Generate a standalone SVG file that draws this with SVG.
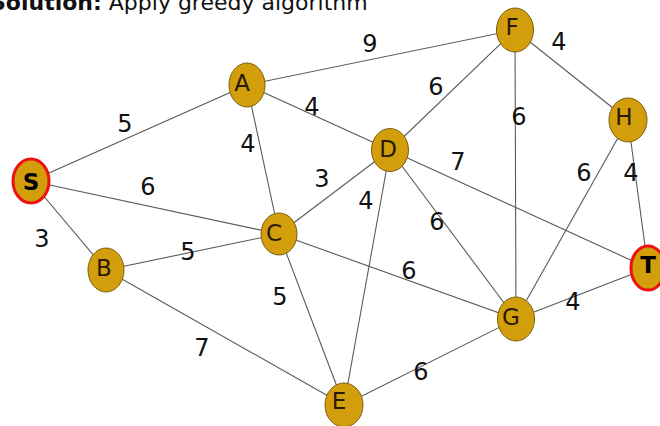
<svg xmlns="http://www.w3.org/2000/svg" width="660" height="426" viewBox="0 0 660 426">
<style>
.bg{fill:#ffffff}
.title{font-family:"DejaVu Sans",Verdana,sans-serif;font-size:22px;fill:#111}
.edge{stroke:#5a5a5a;stroke-width:1.1;fill:none}
.node ellipse{fill:#D29E0C;stroke:#7a5e0a;stroke-width:1}
.node.term ellipse{stroke:#ee1111;stroke-width:3}
.nlabel{font-family:"DejaVu Sans",Verdana,sans-serif;font-size:23px;fill:#2a1a05;text-anchor:middle;dominant-baseline:central}
.term .nlabel{font-weight:bold;fill:#000}
.w{font-family:"DejaVu Sans",Verdana,sans-serif;font-size:24px;fill:#111;text-anchor:middle;dominant-baseline:central}
</style>
<rect class="bg" x="0" y="0" width="660" height="426"/>
<text class="title" x="-10" y="10"><tspan font-weight="bold">Solution:</tspan> Apply greedy algorithm</text>
<g id="connectors">
<line class="edge" x1="31" y1="181" x2="247" y2="85"/>
<line class="edge" x1="31" y1="181" x2="279" y2="234"/>
<line class="edge" x1="31" y1="181" x2="106" y2="270"/>
<line class="edge" x1="247" y1="85" x2="515" y2="30"/>
<line class="edge" x1="247" y1="85" x2="390" y2="150"/>
<line class="edge" x1="247" y1="85" x2="279" y2="234"/>
<line class="edge" x1="515" y1="30" x2="390" y2="150"/>
<line class="edge" x1="515" y1="30" x2="516" y2="319"/>
<line class="edge" x1="515" y1="30" x2="628" y2="120"/>
<line class="edge" x1="628" y1="120" x2="516" y2="319"/>
<line class="edge" x1="628" y1="120" x2="648" y2="268"/>
<line class="edge" x1="390" y1="150" x2="279" y2="234"/>
<line class="edge" x1="390" y1="150" x2="344" y2="405"/>
<line class="edge" x1="390" y1="150" x2="516" y2="319"/>
<line class="edge" x1="390" y1="150" x2="648" y2="268"/>
<line class="edge" x1="279" y1="234" x2="106" y2="270"/>
<line class="edge" x1="279" y1="234" x2="516" y2="319"/>
<line class="edge" x1="279" y1="234" x2="344" y2="405"/>
<line class="edge" x1="106" y1="270" x2="344" y2="405"/>
<line class="edge" x1="344" y1="405" x2="516" y2="319"/>
<line class="edge" x1="516" y1="319" x2="648" y2="268"/>
</g>
<g id="weights">
<text class="w" x="370" y="44">9</text>
<text class="w" x="559" y="42">4</text>
<text class="w" x="436" y="87">6</text>
<text class="w" x="519" y="117">6</text>
<text class="w" x="125" y="124">5</text>
<text class="w" x="312" y="107">4</text>
<text class="w" x="248" y="144">4</text>
<text class="w" x="148" y="187">6</text>
<text class="w" x="322" y="179">3</text>
<text class="w" x="458" y="162">7</text>
<text class="w" x="366" y="201">4</text>
<text class="w" x="437" y="222">6</text>
<text class="w" x="584" y="173">6</text>
<text class="w" x="631" y="173">4</text>
<text class="w" x="42" y="239">3</text>
<text class="w" x="188" y="252">5</text>
<text class="w" x="409" y="271">6</text>
<text class="w" x="280" y="297">5</text>
<text class="w" x="573" y="302">4</text>
<text class="w" x="202" y="348">7</text>
<text class="w" x="421" y="372">6</text>
</g>
<g id="node-S" class="node term"><ellipse cx="31" cy="181" rx="18" ry="22"/><text class="nlabel" x="31" y="182">S</text></g>
<g id="node-A" class="node"><ellipse cx="247" cy="85" rx="18" ry="22"/><text class="nlabel" x="242" y="83">A</text></g>
<g id="node-B" class="node"><ellipse cx="106" cy="270" rx="18" ry="22"/><text class="nlabel" x="104" y="268">B</text></g>
<g id="node-C" class="node"><ellipse cx="279" cy="234" rx="18" ry="21"/><text class="nlabel" x="274" y="233">C</text></g>
<g id="node-D" class="node"><ellipse cx="390" cy="150" rx="18.5" ry="21.5"/><text class="nlabel" x="388" y="149">D</text></g>
<g id="node-E" class="node"><ellipse cx="344" cy="405" rx="19" ry="22"/><text class="nlabel" x="339" y="401">E</text></g>
<g id="node-F" class="node"><ellipse cx="515" cy="30" rx="18.5" ry="22"/><text class="nlabel" x="512" y="27">F</text></g>
<g id="node-G" class="node"><ellipse cx="516" cy="319" rx="18.5" ry="22"/><text class="nlabel" x="511" y="317">G</text></g>
<g id="node-H" class="node"><ellipse cx="628" cy="120" rx="19" ry="22"/><text class="nlabel" x="624" y="117">H</text></g>
<g id="node-T" class="node term"><ellipse cx="648" cy="268" rx="17" ry="22"/><text class="nlabel" x="648" y="265">T</text></g>
</svg>
